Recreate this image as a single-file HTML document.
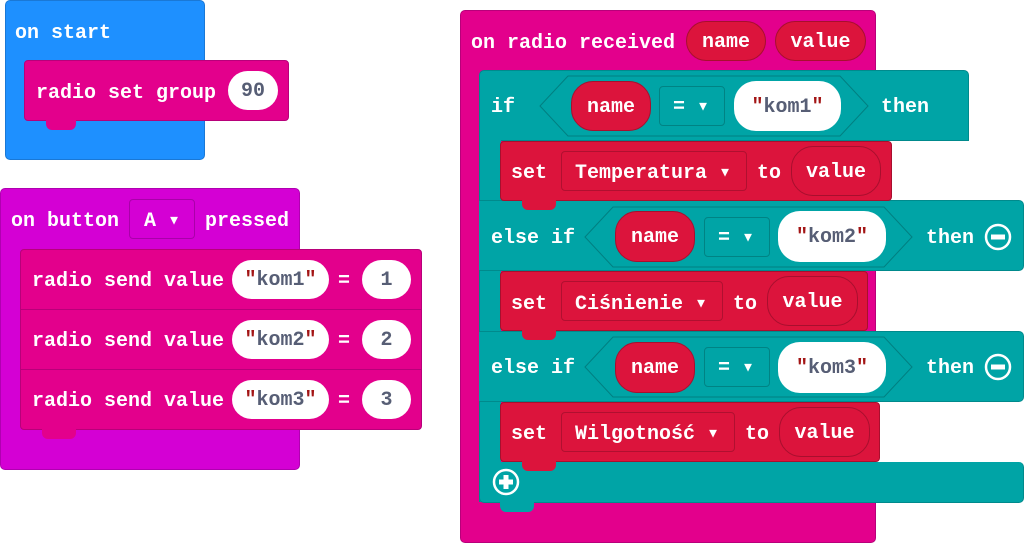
<!DOCTYPE html>
<html><head><meta charset="utf-8"><style>
body{margin:0;width:1024px;height:543px;background:#fff;position:relative;overflow:hidden;font-family:"Liberation Mono",monospace;font-weight:bold;font-size:20px;}
div,span{position:absolute;box-sizing:border-box;}
.t{color:#fff;line-height:24px;white-space:nowrap;margin-top:2px;}
.pill{border-radius:22px;background:#fff;color:#575e75;display:flex;align-items:center;justify-content:center;padding-top:2px;}
.rp{border-radius:22px;background:#dc143c;border:1px solid #a80f2e;color:#fff;display:flex;align-items:center;justify-content:center;padding-top:2px;}
.dd{border-radius:4px;border:1px solid rgba(0,0,0,.2);color:#fff;}
span.q{position:static;color:#a31515;}
.tab{height:10px;width:46px;}
</style></head><body>
<!-- on start -->
<div style="left:5px;top:0;width:200px;height:160px;background:#1e90ff;border:1px solid #1a78d6;border-radius:5px"></div>
<span class="t" style="left:15px;top:20px">on start</span>
<div style="left:24px;top:60px;width:265px;height:61px;background:#e3008c;border:1px solid #b8007a;border-radius:4px"></div>
<div class="tab" style="left:46px;top:120px;background:#e3008c;border-radius:0 0 6px 6px;height:10px;width:30px"></div>
<span class="t" style="left:36px;top:80px">radio set group</span>
<div class="pill" style="left:228px;top:71px;width:50px;height:39px">90</div>

<!-- on button -->
<div style="left:0;top:188px;width:300px;height:282px;background:#d400d4;border:1px solid #b000b0;border-radius:5px"></div>
<span class="t" style="left:11px;top:208px">on button</span>
<div class="dd" style="left:129px;top:199px;width:66px;height:40px"></div>
<span class="t" style="left:144px;top:208px">A ▾</span>
<span class="t" style="left:205px;top:208px">pressed</span>
<div style="left:20px;top:249px;width:402px;height:181px;background:#e3008c;border:1px solid #b8007a;border-radius:4px"></div>
<div style="left:20px;top:309px;width:402px;height:1px;background:#b8007a"></div>
<div style="left:20px;top:369px;width:402px;height:1px;background:#b8007a"></div>
<div class="tab" style="left:42px;top:429px;width:34px;background:#e3008c;border-radius:0 0 6px 6px"></div>
<span class="t" style="left:32px;top:268px">radio send value</span>
<div class="pill" style="left:232px;top:260px;width:97px;height:39px"><span class="q">"</span>kom1<span class="q">"</span></div>
<span class="t" style="left:338px;top:268px">=</span>
<div class="pill" style="left:362px;top:260px;width:49px;height:39px">1</div>
<span class="t" style="left:32px;top:328px">radio send value</span>
<div class="pill" style="left:232px;top:320px;width:97px;height:39px"><span class="q">"</span>kom2<span class="q">"</span></div>
<span class="t" style="left:338px;top:328px">=</span>
<div class="pill" style="left:362px;top:320px;width:49px;height:39px">2</div>
<span class="t" style="left:32px;top:388px">radio send value</span>
<div class="pill" style="left:232px;top:380px;width:97px;height:39px"><span class="q">"</span>kom3<span class="q">"</span></div>
<span class="t" style="left:338px;top:388px">=</span>
<div class="pill" style="left:362px;top:380px;width:49px;height:39px">3</div>

<!-- on radio received -->
<div style="left:460px;top:10px;width:416px;height:533px;background:#e3008c;border:1px solid #b8007a;border-radius:5px"></div>
<span class="t" style="left:471px;top:30px">on radio received</span>
<div class="rp" style="left:686px;top:21px;width:80px;height:40px">name</div>
<div class="rp" style="left:775px;top:21px;width:91px;height:40px">value</div>

<!-- teal if -->
<div style="left:479px;top:70px;width:490px;height:71px;background:#00a4a6;border:1px solid #008a8c;border-radius:5px 5px 0 0"></div>
<div style="left:479px;top:140px;width:22px;height:362px;background:#00a4a6;border-left:1px solid #008a8c"></div>
<div style="left:479px;top:200px;width:545px;height:71px;background:#00a4a6;border:1px solid #008a8c;border-left:none;border-radius:0 5px 5px 0"></div>
<div style="left:479px;top:331px;width:545px;height:71px;background:#00a4a6;border:1px solid #008a8c;border-left:none;border-radius:0 5px 5px 0"></div>
<div style="left:479px;top:462px;width:545px;height:41px;background:#00a4a6;border:1px solid #008a8c;border-radius:0 5px 5px 5px;border-top:none"></div>
<div class="tab" style="left:500px;top:502px;width:34px;background:#00a4a6;border-radius:0 0 6px 6px"></div>

<svg style="position:absolute;left:0;top:0" width="1024" height="543">
<polygon points="540,106 568,76 840,76 868,106 840,136 568,136" fill="#00a4a6" stroke="#007f81" stroke-width="1"/>
<polygon points="585,237 613,207 884,207 912,237 884,267 613,267" fill="#00a4a6" stroke="#007f81" stroke-width="1"/>
<polygon points="585,367 613,337 884,337 912,367 884,397 613,397" fill="#00a4a6" stroke="#007f81" stroke-width="1"/>
<circle cx="998" cy="237" r="12" fill="none" stroke="#fff" stroke-width="2.5"/><rect x="991" y="234.5" width="14" height="5" fill="#fff"/>
<circle cx="998" cy="367" r="12" fill="none" stroke="#fff" stroke-width="2.5"/><rect x="991" y="364.5" width="14" height="5" fill="#fff"/>
<circle cx="506" cy="482" r="12" fill="none" stroke="#fff" stroke-width="2.5"/><rect x="499" y="479.5" width="14" height="5" fill="#fff"/><rect x="503.5" y="475" width="5" height="14" fill="#fff"/>
</svg>

<span class="t" style="left:491px;top:94px">if</span>
<div class="rp" style="left:571px;top:81px;width:80px;height:50px">name</div>
<div class="dd" style="left:659px;top:86px;width:66px;height:40px"></div><span class="t" style="left:673px;top:94px">= ▾</span>
<div class="pill" style="left:734px;top:81px;width:107px;height:50px"><span class="q">"</span>kom1<span class="q">"</span></div>
<span class="t" style="left:881px;top:94px">then</span>

<span class="t" style="left:491px;top:225px">else if</span>
<div class="rp" style="left:615px;top:211px;width:80px;height:51px">name</div>
<div class="dd" style="left:704px;top:217px;width:66px;height:40px"></div><span class="t" style="left:718px;top:225px">= ▾</span>
<div class="pill" style="left:778px;top:211px;width:108px;height:51px"><span class="q">"</span>kom2<span class="q">"</span></div>
<span class="t" style="left:926px;top:225px">then</span>

<span class="t" style="left:491px;top:355px">else if</span>
<div class="rp" style="left:615px;top:342px;width:80px;height:51px">name</div>
<div class="dd" style="left:704px;top:347px;width:66px;height:40px"></div><span class="t" style="left:718px;top:355px">= ▾</span>
<div class="pill" style="left:778px;top:342px;width:108px;height:51px"><span class="q">"</span>kom3<span class="q">"</span></div>
<span class="t" style="left:926px;top:355px">then</span>

<!-- set blocks -->
<div style="left:500px;top:141px;width:392px;height:60px;background:#dc143c;border:1px solid #a80f2e;border-radius:4px"></div>
<div class="tab" style="left:522px;top:200px;width:34px;background:#dc143c;border-radius:0 0 6px 6px"></div>
<span class="t" style="left:511px;top:160px">set</span>
<div class="dd" style="left:561px;top:151px;width:186px;height:40px"></div>
<span class="t" style="left:575px;top:160px">Temperatura ▾</span>
<span class="t" style="left:757px;top:160px">to</span>
<div class="rp" style="left:791px;top:146px;width:90px;height:50px">value</div>

<div style="left:500px;top:271px;width:368px;height:60px;background:#dc143c;border:1px solid #a80f2e;border-radius:4px"></div>
<div class="tab" style="left:522px;top:330px;width:34px;background:#dc143c;border-radius:0 0 6px 6px"></div>
<span class="t" style="left:511px;top:291px">set</span>
<div class="dd" style="left:561px;top:281px;width:162px;height:40px"></div>
<span class="t" style="left:575px;top:291px">Ciśnienie ▾</span>
<span class="t" style="left:733px;top:291px">to</span>
<div class="rp" style="left:767px;top:276px;width:91px;height:50px">value</div>

<div style="left:500px;top:402px;width:380px;height:60px;background:#dc143c;border:1px solid #a80f2e;border-radius:4px"></div>
<div class="tab" style="left:522px;top:461px;width:34px;background:#dc143c;border-radius:0 0 6px 6px"></div>
<span class="t" style="left:511px;top:421px">set</span>
<div class="dd" style="left:561px;top:412px;width:174px;height:40px"></div>
<span class="t" style="left:575px;top:421px">Wilgotność ▾</span>
<span class="t" style="left:745px;top:421px">to</span>
<div class="rp" style="left:779px;top:407px;width:91px;height:50px">value</div>
</body></html>
